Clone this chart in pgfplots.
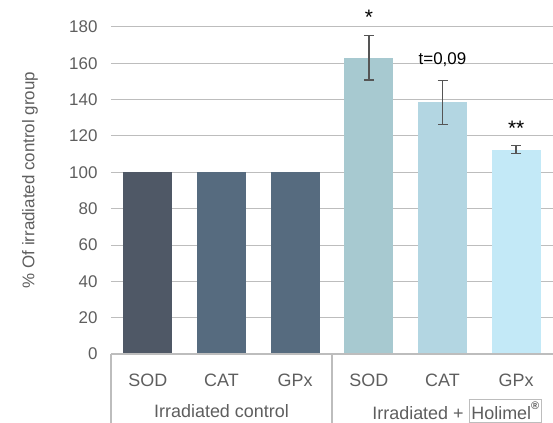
\documentclass[border=0pt]{standalone}
\usepackage{pgfplots}
\pgfplotsset{compat=1.18}
\usepackage{fontspec}
\setmainfont{Liberation Sans}
\definecolor{cA}{HTML}{4F5866}
\definecolor{cB}{HTML}{566B7F}
\definecolor{cC}{HTML}{A7C9D0}
\definecolor{cD}{HTML}{B3D6E2}
\definecolor{cE}{HTML}{C3E9F7}
\definecolor{errc}{HTML}{555555}
\definecolor{tickc}{HTML}{5E5E5E}
\definecolor{linec}{HTML}{BDBDBD}
\pgfplotsset{mybar/.style={ybar, bar width=49bp, bar shift=0pt, draw=none},
  myerr/.style={error bars/.cd, y dir=both, y explicit,
  error bar style={errc, line width=1.4bp},
  error mark options={errc, mark size=5bp, line width=1.4bp, rotate=90}}}
\begin{document}
\begin{tikzpicture}
\begin{axis}[
  name=ax, scale only axis, width=442bp, height=327bp,
  xmin=-0.5, xmax=5.5, ymin=0, ymax=180,
  clip=false,
  axis line style={draw=none},
  major tick length=0pt,
  xtick={0,1,2,3,4,5},
  xticklabels={SOD,CAT,GPx,SOD,CAT,GPx},
  xticklabel style={anchor=center, yshift=-26bp, font=\fontsize{18}{20}\selectfont, text=tickc},
  ytick={0,20,...,180},
  yticklabel style={anchor=east, xshift=-10bp, font=\fontsize{17}{19}\selectfont, text=tickc},
  /pgf/number format/assume math mode=true,
  ymajorgrids,
  grid style={linec, line width=1bp},
]
\addplot[mybar, fill=cA] coordinates {(0,100)};
\addplot[mybar, fill=cB] coordinates {(1,100)};
\addplot[mybar, fill=cB] coordinates {(2,100)};
\addplot[mybar, fill=cC, myerr] coordinates {(3,163) +- (0,12.2)};
\addplot[mybar, fill=cD, myerr] coordinates {(4,138.5) +- (0,12.1)};
\addplot[mybar, fill=cE, myerr] coordinates {(5,112.5) +- (0,2.2)};
\draw[linec, line width=1.2bp] (axis cs:-0.5,0) -- (axis cs:5.6,0);
\draw[linec, line width=1.2bp] (axis cs:-0.5,0) -- ([yshift=-75bp]axis cs:-0.5,0);
\draw[linec, line width=1.2bp] (axis cs:2.5,0) -- ([yshift=-75bp]axis cs:2.5,0);
\node[font=\fontsize{18}{20}\selectfont, text=tickc] at ([yshift=-57bp]axis cs:1,0) {Irradiated control};
\node[font=\fontsize{18}{20}\selectfont, text=tickc] at ([yshift=-57bp]axis cs:4.2,0) {Irradiated + {\setlength\fboxsep{2pt}\setlength\fboxrule{0.8pt}\fcolorbox{linec}{white}{Holimel\raisebox{0.55em}{\fontsize{11}{11}\selectfont\bfseries ®}}}};
\node[font=\fontsize{21}{23}\selectfont] at ([yshift=-4bp]axis cs:3,187.7) {*};
\node[font=\fontsize{17}{19}\selectfont] at (axis cs:4,161.8) {t=0,09};
\node[font=\fontsize{21}{23}\selectfont] at ([yshift=-4bp]axis cs:5,126.6) {**};
\node[rotate=90, font=\fontsize{17}{19}\selectfont, text=tickc] at ([xshift=-81bp]rel axis cs:0,0.532) {\% Of irradiated control group};
\end{axis}
\pgfresetboundingbox
\path[use as bounding box] (ax.south west) ++(-111bp,-69bp) rectangle ++(553bp,423bp);
\end{tikzpicture}
\end{document}
